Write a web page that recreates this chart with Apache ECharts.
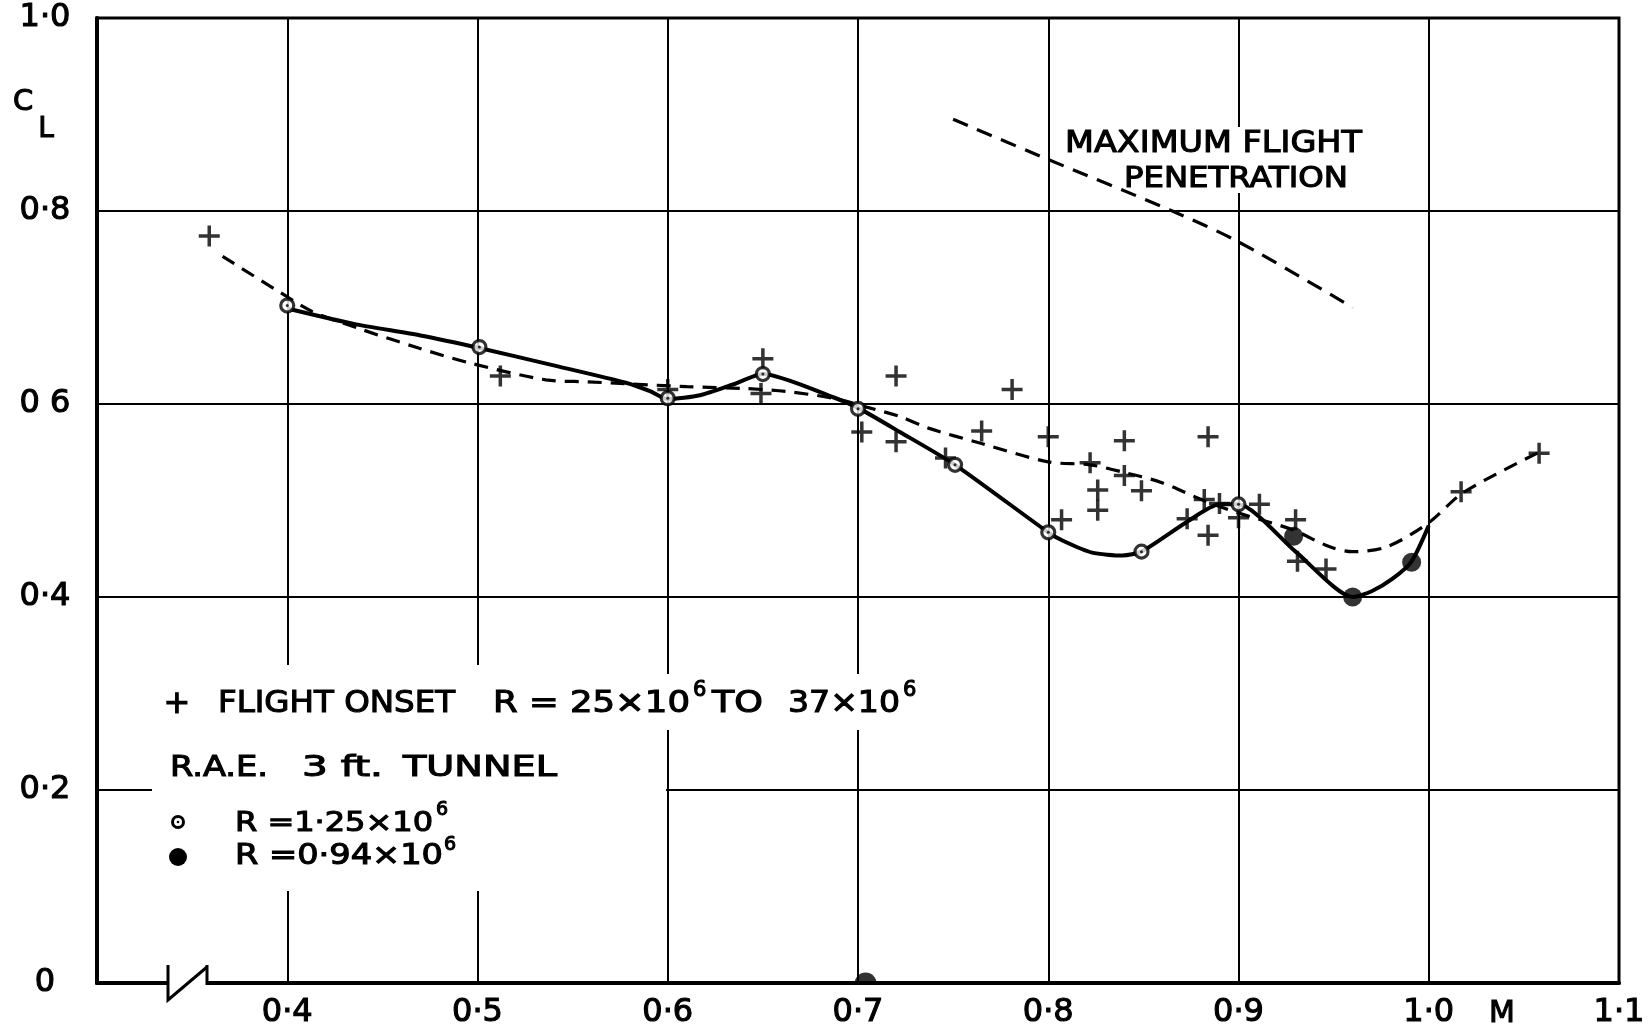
<!DOCTYPE html>
<html><head><meta charset="utf-8">
<script src="https://cdn.jsdelivr.net/npm/echarts@6/dist/echarts.min.js"></script>
<style>html,body{margin:0;padding:0;background:#fff}#c{width:1648px;height:1032px}</style>
</head><body><div id="c"></div>
<script>
// ---- axis ticks ----
const xTickValues = [0.3, 0.4, 0.5, 0.6, 0.7, 0.8, 0.9, 1.0, 1.1];
const xTickLabels = ['', '0·4', '0·5', '0·6', '0·7', '0·8', '0·9', '1·0', '1·1'];
const yTickValues = [0, 0.2, 0.4, 0.6, 0.8, 1.0];
const yTickLabels = ['0', '0·2', '0·4', '0 6', '0·8', '1·0'];

// ---- flight onset points (+) ----
const flightOnsetM  = [0.359, 0.512, 0.600, 0.650, 0.649, 0.720, 0.702, 0.720, 0.781, 0.746, 0.765, 0.800, 0.840, 0.884, 0.822, 0.840, 0.826, 0.849, 0.826, 0.807, 0.882, 0.890, 0.873, 0.884, 0.900, 0.911, 0.930, 0.931, 0.946, 1.017, 1.058];
const flightOnsetCL = [0.774, 0.629, 0.615, 0.647, 0.611, 0.629, 0.571, 0.561, 0.615, 0.544, 0.572, 0.566, 0.562, 0.566, 0.539, 0.526, 0.511, 0.510, 0.490, 0.480, 0.501, 0.497, 0.481, 0.464, 0.482, 0.496, 0.480, 0.437, 0.429, 0.509, 0.549];

// ---- flight faired curve (dashed) ----
const flightCurveM  = [0.366, 0.396, 0.413, 0.438, 0.469, 0.497, 0.536, 0.558, 0.610, 0.641, 0.662, 0.687, 0.704, 0.722, 0.737, 0.765, 0.800, 0.822, 0.840, 0.859, 0.883, 0.900, 0.928, 0.948, 0.960, 0.978, 1.000, 1.018, 1.058];
const flightCurveCL = [0.753, 0.716, 0.696, 0.678, 0.658, 0.642, 0.625, 0.623, 0.618, 0.616, 0.613, 0.606, 0.597, 0.587, 0.575, 0.559, 0.540, 0.537, 0.529, 0.519, 0.499, 0.487, 0.470, 0.452, 0.447, 0.452, 0.477, 0.508, 0.550];

// ---- R.A.E. 3 ft tunnel, R = 1.25e6 (open circles) ----
const tunnel125M  = [0.400, 0.501, 0.600, 0.650, 0.700, 0.751, 0.800, 0.849, 0.900];
const tunnel125CL = [0.702, 0.659, 0.606, 0.631, 0.595, 0.537, 0.467, 0.447, 0.496];

// ---- R.A.E. 3 ft tunnel, R = 0.94e6 (filled circles) ----
const tunnel094M  = [0.929, 0.960, 0.991];
const tunnel094CL = [0.463, 0.400, 0.436];

// ---- tunnel faired curve (solid) ----
const tunnelCurveM  = [0.400, 0.435, 0.470, 0.501, 0.540, 0.578, 0.591, 0.600, 0.617, 0.634, 0.650, 0.687, 0.700, 0.722, 0.751, 0.800, 0.808, 0.823, 0.839, 0.849, 0.873, 0.890, 0.900, 0.930, 0.960, 0.970, 0.981, 0.991, 1.000];
const tunnelCurveCL = [0.699, 0.683, 0.671, 0.658, 0.640, 0.622, 0.613, 0.605, 0.609, 0.620, 0.631, 0.607, 0.596, 0.571, 0.537, 0.467, 0.458, 0.446, 0.443, 0.447, 0.478, 0.496, 0.496, 0.447, 0.400, 0.406, 0.419, 0.437, 0.474];

// ---- maximum flight penetration (dashed) ----
const maxPenM  = [0.750, 0.798, 0.864, 0.900, 0.960];
const maxPenCL = [0.895, 0.855, 0.801, 0.768, 0.700];

// ---- ink mark on the axis ----
const inkMarkM  = [0.704];
const inkMarkCL = [0.0];

const pairs = (xs, ys) => xs.map((x, i) => [x, ys[i]]);
const xLabelMap = Object.fromEntries(xTickValues.map((v, i) => [Math.round(v * 10), xTickLabels[i]]));
const yLabelMap = Object.fromEntries(yTickValues.map((v, i) => [Math.round(v * 10), yTickLabels[i]]));

const FONTNAME = '"DejaVu Sans"';
const cv = document.createElement('canvas').getContext('2d');
function measure(s, size) { cv.font = size + 'px ' + FONTNAME; return cv.measureText(s).width; }
function txt(s, x, y, size, align, scaleX) {
  return { type: 'text', x: x, y: y, scaleX: scaleX || 1, z: 20, silent: true,
    style: { text: s, x: 0, y: 0, font: size + 'px ' + FONTNAME, fill: '#000', stroke: '#000', lineWidth: 1.1,
      textAlign: align || 'left', textVerticalAlign: 'middle', align: align || 'left', verticalAlign: 'middle' } };
}
function fit(s, left, right, y, size) { return txt(s, left, y, size, 'left', (right - left) / measure(s, size)); }
function wrect(x, y, w, h) { return { type: 'rect', z: 1, silent: true, shape: { x: x, y: y, width: w, height: h }, style: { fill: '#fff' } }; }

const graphics = [
  // gaps in the grid behind lettering
  wrect(152, 665, 514, 226),
  wrect(666, 674, 274, 56),
  wrect(1236, 127, 11, 66),
  // C_L
  txt('C', 23, 102, 29, 'center'),
  txt('L', 46, 130, 28, 'center'),
  // M on x axis
  txt('M', 1502, 1014, 30, 'center'),
  // maximum flight penetration
  fit('MAXIMUM FLIGHT', 1065, 1362, 144, 30),
  fit('PENETRATION', 1124, 1348, 180, 28),
  // legend row 1
  txt('+', 177, 705, 32, 'center'),
  fit('FLIGHT ONSET', 218, 455, 704, 30),
  fit('R = 25×10', 493, 690, 704, 30),
  txt('6', 693, 691, 21, 'left'),
  fit('TO', 712, 763, 704, 30),
  fit('37×10', 788, 900, 704, 30),
  txt('6', 903, 691, 21, 'left'),
  // legend row 2
  fit('R.A.E.', 170, 268, 768, 29),
  fit('3 ft.', 302, 383, 768, 29),
  fit('TUNNEL', 403, 557, 768, 29),
  // legend row 3
  { type: 'circle', z: 20, shape: { cx: 178, cy: 822, r: 5.5 }, style: { fill: '#fff', stroke: '#000', lineWidth: 3 } },
  { type: 'circle', z: 21, shape: { cx: 178, cy: 822, r: 1.3 }, style: { fill: '#000' } },
  fit('R =1·25×10', 235, 433, 824, 27),
  txt('6', 436, 810, 19, 'left'),
  // legend row 4
  { type: 'circle', z: 20, shape: { cx: 178, cy: 857, r: 9 }, style: { fill: '#000' } },
  fit('R =0·94×10', 235, 443, 857, 28),
  txt('6', 444, 845, 19, 'left'),
  // axis break symbol
  { type: 'rect', z: 30, shape: { x: 169, y: 978, width: 37, height: 10 }, style: { fill: '#fff' } },
  { type: 'polyline', z: 31, shape: { points: [[168, 965], [168, 1000], [207, 967]] }, style: { fill: null, stroke: '#000', lineWidth: 3 } },
  { type: 'polyline', z: 31, shape: { points: [[207, 965], [207, 985]] }, style: { fill: null, stroke: '#000', lineWidth: 3 } }
];

const labelStroke = { textBorderColor: '#000', textBorderWidth: 1.1 };

const chart = echarts.init(document.getElementById('c'), null, { renderer: 'canvas' });
chart.setOption({
  animation: false,
  backgroundColor: '#fff',
  grid: { left: 97, right: 23, top: 18, bottom: 49, show: true, borderColor: '#000', borderWidth: 3, backgroundColor: 'transparent' },
  xAxis: {
    type: 'value', min: 0.3, max: 1.1, interval: 0.1,
    axisLine: { show: true, lineStyle: { color: '#000', width: 4 } },
    axisTick: { show: false },
    splitLine: { show: true, lineStyle: { color: '#000', width: 2 } },
    axisLabel: Object.assign({ show: true, margin: 14, color: '#000', fontFamily: FONTNAME, fontSize: 32, hideOverlap: false,
      showMinLabel: true, showMaxLabel: true,
      formatter: v => xLabelMap[Math.round(v * 10)] || '' }, labelStroke)
  },
  yAxis: {
    type: 'value', min: 0, max: 1.0, interval: 0.2,
    axisLine: { show: true, lineStyle: { color: '#000', width: 4 } },
    axisTick: { show: false },
    splitLine: { show: true, lineStyle: { color: '#000', width: 2 } },
    axisLabel: Object.assign({ show: true, margin: 52, align: 'center', color: '#000', fontFamily: FONTNAME, fontSize: 32, hideOverlap: false,
      showMinLabel: true, showMaxLabel: true,
      formatter: v => yLabelMap[Math.round(v * 10)] }, labelStroke)
  },
  series: [
    { type: 'line', silent: true, data: pairs(maxPenM, maxPenCL), smooth: 0.3, symbol: 'none', z: 2,
      lineStyle: { color: '#000', width: 3.2, type: [16, 10] } },
    { type: 'line', silent: true, data: pairs(flightCurveM, flightCurveCL), smooth: 0.3, symbol: 'none', z: 2,
      lineStyle: { color: '#000', width: 3.2, type: [14, 9] } },
    { type: 'line', silent: true, data: pairs(tunnelCurveM, tunnelCurveCL), smooth: 0.22, symbol: 'none', z: 3,
      lineStyle: { color: '#000', width: 4 } },
    { type: 'scatter', silent: true, data: pairs(flightOnsetM, flightOnsetCL), symbol: 'path://M10 0V20M0 10H20', symbolSize: 21, z: 4,
      itemStyle: { color: 'rgba(0,0,0,0)', borderColor: '#000', borderWidth: 3.5 } },
    { type: 'scatter', silent: true, data: pairs(tunnel125M, tunnel125CL), symbol: 'circle', symbolSize: 13, z: 5,
      itemStyle: { color: '#fff', borderColor: '#000', borderWidth: 3.2 } },
    { type: 'scatter', silent: true, data: pairs(tunnel125M, tunnel125CL), symbol: 'circle', symbolSize: 3, z: 6,
      itemStyle: { color: '#000' } },
    { type: 'scatter', silent: true, data: pairs(tunnel094M, tunnel094CL), symbol: 'circle', symbolSize: 19, z: 5,
      itemStyle: { color: '#000' } },
    { type: 'scatter', silent: true, data: pairs(inkMarkM, inkMarkCL), symbol: 'path://M0 10A10 10 0 0 1 20 10Z', symbolSize: [22, 11], symbolOffset: [0, -5], z: 5,
      itemStyle: { color: '#000' } }
  ],
  graphic: graphics
});
</script></body></html>
